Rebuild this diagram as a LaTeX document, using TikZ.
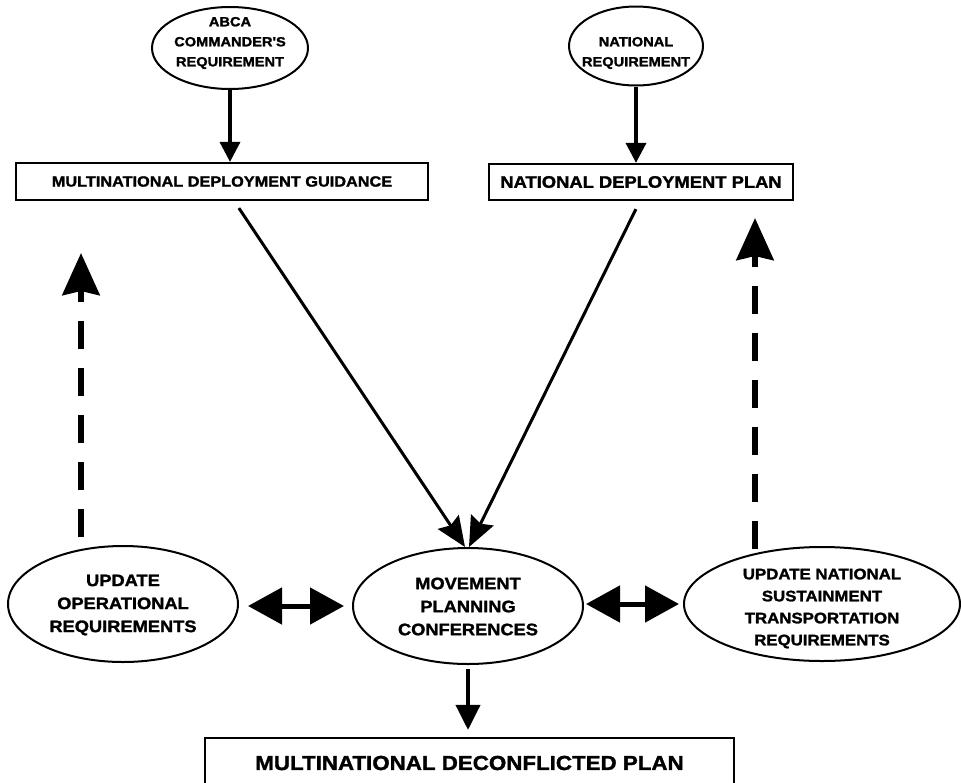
\documentclass[tikz,border=0pt]{standalone}
\usepackage{fontspec}
\newfontfamily\lbl[FakeStretch=1.1,FakeBold=1.6]{Liberation Sans}
\usetikzlibrary{shapes.geometric,arrows.meta,calc}
\newcommand{\lblsize}[2]{\lbl\bfseries\fontsize{#1pt}{#2pt}\selectfont}
\begin{document}
\begin{tikzpicture}[x=1pt,y=-1pt,
  ell/.style={ellipse,draw,line width=2pt,inner sep=0pt,fill=white},
  etext/.style={inner sep=0pt,align=center},
  box/.style={rectangle,draw,line width=2.2pt,inner sep=0pt,align=center,fill=white},
  solidarrow/.style={line width=3.5pt,-{Triangle[length=20pt,width=20pt]}},
  diagarrow/.style={line width=3pt,-{Stealth[length=30pt,width=25pt,inset=4pt]}},
  dasharrow/.style={line width=6.5pt,dash pattern=on 28.5pt off 18.5pt,-{Stealth[length=42pt,width=37pt,inset=4pt]}},
  dblarrow/.style={line width=5pt,{Triangle[length=34pt,width=36pt]}-{Triangle[length=34pt,width=36pt]}},
  downarrow/.style={line width=4pt,-{Triangle[length=25pt,width=24pt]}}
]
\useasboundingbox (0,0) rectangle (961,782);
\clip (0,0) rectangle (961,782);

% ellipse shapes
\node[ell,minimum width=156pt,minimum height=82pt] (abca) at (230,48) {};
\node[ell,minimum width=134pt,minimum height=79pt] (natreq) at (636,46) {};
\node[ell,minimum width=230pt,minimum height=116pt] (mpc) at (468,606) {};
\node[ell,minimum width=230pt,minimum height=116pt] (uor) at (123,604) {};
\node[ell,minimum width=276pt,minimum height=114pt] (unst) at (822,604) {};

% ellipse texts
\node[etext,font=\lblsize{13.3}{20}] (abcatxt) at (230,43) {ABCA\\COMMANDER'S\\REQUIREMENT};
\node[etext,font=\lblsize{13.3}{20}] (natreqtxt) at (636,53) {NATIONAL\\REQUIREMENT};
\node[etext,font=\lblsize{16.6}{23}] (mpctxt) at (468,606.5) {MOVEMENT\\PLANNING\\CONFERENCES};
\node[etext,font=\lblsize{16.6}{23}] (uortxt) at (123,605) {UPDATE\\OPERATIONAL\\REQUIREMENTS};
\node[etext,font=\lblsize{15.3}{22}] (unsttxt) at (822,608.5) {UPDATE NATIONAL\\SUSTAINMENT\\TRANSPORTATION\\REQUIREMENTS};

% boxes
\node[box,minimum width=412pt,minimum height=37pt,font=\lblsize{14.8}{18}] (mdg) at (222,181.5) {MULTINATIONAL DEPLOYMENT GUIDANCE};
\node[box,minimum width=304pt,minimum height=36pt,font=\lblsize{16.7}{20}] (ndp) at (641,182) {NATIONAL DEPLOYMENT PLAN};
\node[box,minimum width=529pt,minimum height=50pt,font=\lblsize{20.3}{24}] (mdp) at (469.5,763) {MULTINATIONAL DECONFLICTED PLAN};

\coordinate (uptipL) at (81,253);
\coordinate (uptipR) at (755,218);

% connectors
\draw[solidarrow] (abca.south) -- (abca.south |- mdg.north);
\draw[solidarrow] (natreq.south) -- (natreq.south |- ndp.north);
\draw[diagarrow] ($(mdg.south west)+(224,7)$) -- ($(mpc.north)+(-3,0)$);
\draw[diagarrow] ($(ndp.south west)+(148,8)$) -- ($(mpc.north)+(1,0)$);
\draw[dasharrow] ($(uor.north)+(-42,-8)$) -- (uptipL);
\draw[dasharrow] ($(unst.north)+(-67,3)$) -- (uptipR);
\draw[dblarrow] ($(uor.east)+(9,2)$) -- ($(mpc.west)+(-8,0)$);
\draw[dblarrow] ($(mpc.east)+(2,-2)$) -- ($(unst.west)+(-4,0)$);
\draw[downarrow] ($(mpc.south)+(0,4)$) -- ($(mdp.north)+(-1.5,-7)$);
\end{tikzpicture}
\end{document}
